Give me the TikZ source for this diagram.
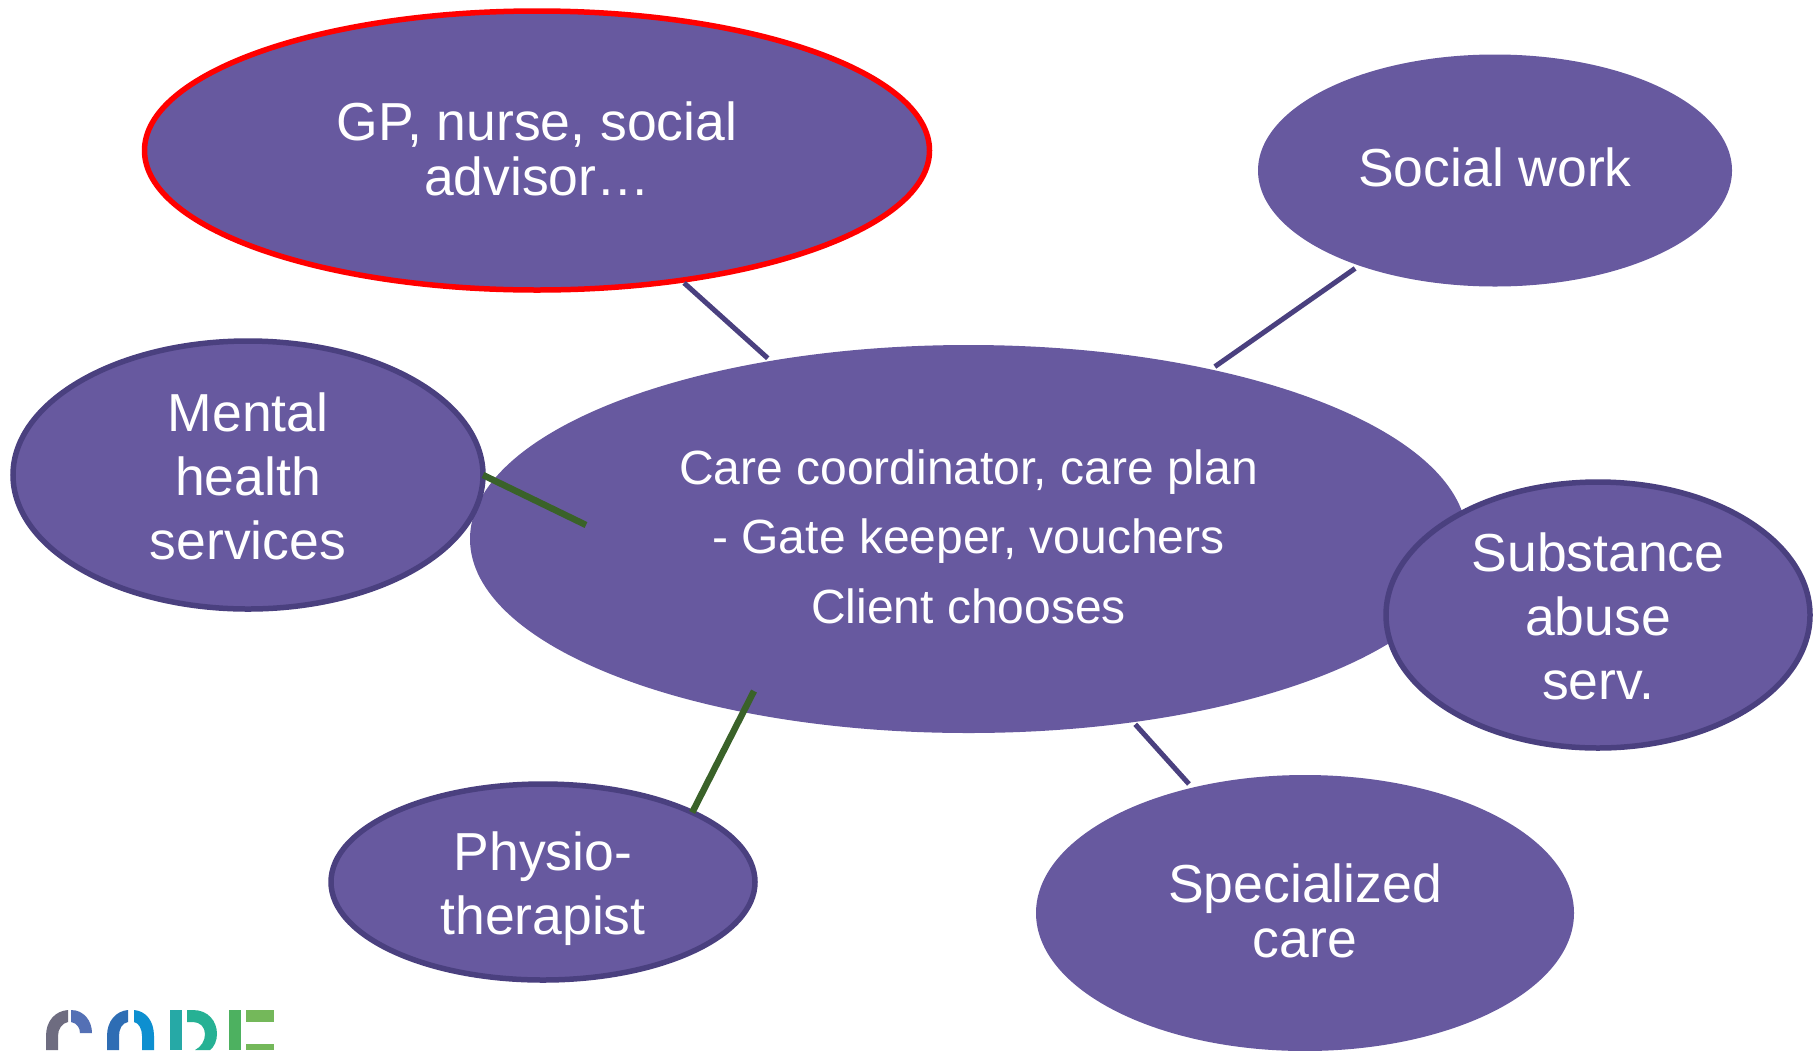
\documentclass[tikz,border=0pt]{standalone}
\usepackage{fontspec}
\setmainfont{Liberation Sans}
\usetikzlibrary{shapes.geometric}
\definecolor{oval}{HTML}{67599F}
\definecolor{rim}{HTML}{4A407F}
\definecolor{redrim}{HTML}{FF0000}
\definecolor{leaf}{HTML}{3A6229}
\definecolor{lgA}{HTML}{6E6C80}
\definecolor{lgB}{HTML}{5470B5}
\definecolor{lgC}{HTML}{2E6DB4}
\definecolor{lgD}{HTML}{0D8FD0}
\definecolor{lgE}{HTML}{26A9A6}
\definecolor{lgF}{HTML}{26B194}
\definecolor{lgG}{HTML}{4DB160}
\definecolor{lgH}{HTML}{74B85A}
\tikzset{
  x=1pt,y=-1pt,
  oval/.style={ellipse,fill=oval,inner sep=0pt,outer sep=0pt},
  rimmed/.style={oval,draw=rim,line width=5.5pt},
  say/.style={text=white,align=center,inner sep=0pt,outer sep=0pt,yshift=#1},
  big/.style={font=\fontsize{53.5}{55}\selectfont},
  bigwide/.style={font=\fontsize{53.5}{64}\selectfont},
  mid/.style={font=\fontsize{48}{69.6}\selectfont},
  link/.style={draw=rim,line width=5pt},
  greenlink/.style={draw=leaf,line width=6.5pt}
}
\begin{document}
\begin{tikzpicture}
\useasboundingbox (0,0) rectangle (1819,1050);
\clip (0,0) rectangle (1819,1050);
\fill[white] (0,0) rectangle (1819,1050);
% logo
\fill[lgA] (46,1050) -- (46,1036) .. controls (46,1021) and (55,1011) .. (68,1010) -- (68,1022) .. controls (62,1023) and (58,1029) .. (58,1036) -- (58,1050) -- cycle;
\fill[lgB] (71,1010) .. controls (84,1010) and (92,1021) .. (92,1033) -- (80,1033) .. controls (80,1028) and (77,1023) .. (71,1022) -- cycle;
\fill[lgC] (107,1050) -- (107,1036) .. controls (107,1021) and (116,1011) .. (128,1010) -- (128,1022) .. controls (122,1023) and (119,1029) .. (119,1036) -- (119,1050) -- cycle;
\fill[lgD] (134,1010) .. controls (146,1011) and (154,1021) .. (154,1036) -- (154,1050) -- (142,1050) -- (142,1036) .. controls (142,1029) and (139,1023) .. (134,1022) -- cycle;
\fill[lgE] (170,1010) rectangle (182,1050);
\fill[lgF] (187,1010) -- (193,1010) .. controls (208,1010) and (217,1021) .. (217,1034) .. controls (217,1041) and (214,1047) .. (210,1050) -- (195,1050) .. controls (201,1047) and (205,1041) .. (205,1034) .. controls (205,1027) and (200,1022) .. (193,1022) -- (187,1022) -- cycle;
\fill[lgG] (229,1010) rectangle (241,1050);
\fill[lgH] (246,1010) rectangle (274,1022);
\fill[lgH] (246,1044) rectangle (274,1050);
% ovals
\node[oval,minimum width=997pt,minimum height=388pt,
  label={[say=2.3pt,mid]center:{Care coordinator, care plan\\- Gate keeper, vouchers\\Client chooses}}] (center) at (968.5,539) {};
\node[oval,draw=redrim,line width=5.5pt,minimum width=785pt,minimum height=279pt,
  label={[say=2pt,big]center:{GP, nurse, social\\advisor…}}] (gp) at (537,150.5) {};
\node[oval,minimum width=474pt,minimum height=232pt,
  label={[say=3pt,big]center:{Social work}}] (social) at (1495,170.5) {};
\node[rimmed,minimum width=470pt,minimum height=268pt,
  label={[say=-1.5pt,bigwide]center:{Mental\\health\\services}}] (mental) at (248,475) {};
\node[rimmed,minimum width=424pt,minimum height=266pt,
  label={[say=-1.5pt,bigwide]center:{Substance\\abuse\\serv.}}] (subst) at (1598,615) {};
\node[rimmed,minimum width=424pt,minimum height=196pt,
  label={[say=-7pt,bigwide]center:{Physio-\\therapist}}] (physio) at (543,882) {};
\node[oval,minimum width=538pt,minimum height=276pt,
  label={[say=2pt,big]center:{Specialized\\care}}] (spec) at (1305,913) {};
% connectors
\coordinate (mentalend) at (586,525);
\coordinate (physioend) at (754,691);
\draw[link,shorten <=4pt,shorten >=4pt] (gp) -- (center);
\draw[link,shorten <=5pt,shorten >=5pt] (social) -- (center);
\draw[link,shorten <=5pt,shorten >=3pt] (spec) -- (center);
\draw[greenlink] (mental.east) -- (mentalend);
\draw[greenlink] (physio.25) -- (physioend);
\end{tikzpicture}
\end{document}
